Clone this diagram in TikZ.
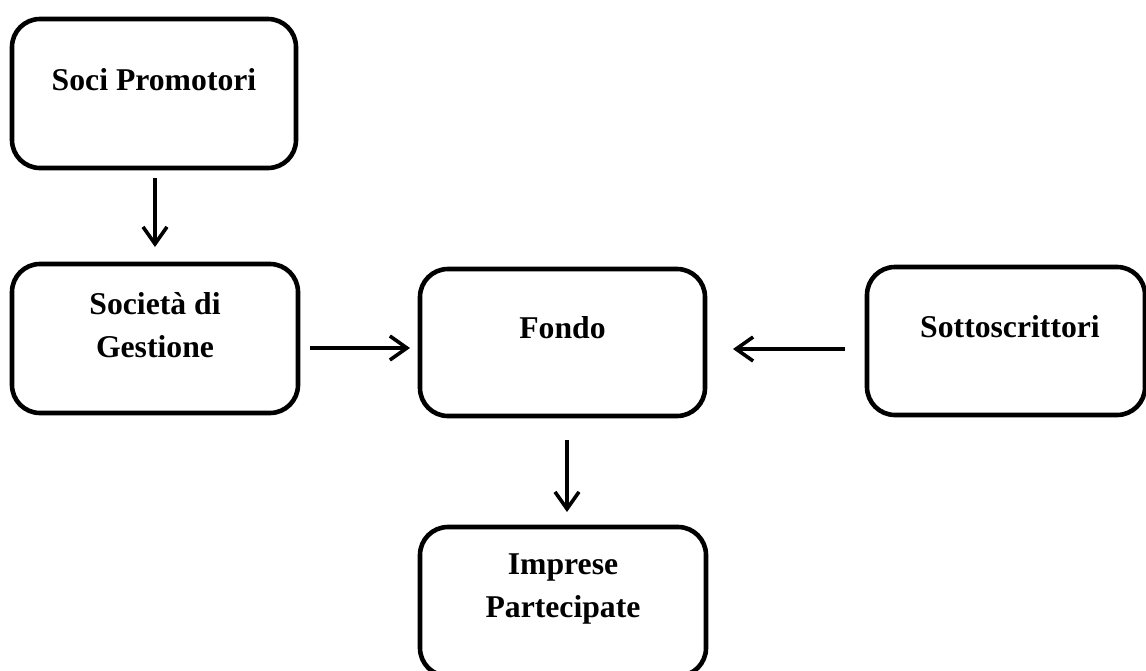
\documentclass[tikz,border=0pt]{standalone}
\usepackage{fontspec}
\setmainfont{Liberation Serif}
\usetikzlibrary{arrows.meta}
\begin{document}
\begin{tikzpicture}[x=1pt,y=-1pt,
  box/.style={draw,line width=4.6pt,rounded corners=28pt,inner sep=0pt,outer sep=0pt},
  lbl/.style={font=\fontsize{31.7}{43}\selectfont\bfseries,inner sep=0pt,align=center},
  arr/.style={line width=3.6pt,-{Straight Barb[length=17pt,width=24pt]}}]
\useasboundingbox (0,0) rectangle (1146,670);
\clip (0,0) rectangle (1146,670);
\node[box,minimum width=284pt,minimum height=149pt] (soci) at (154,93.5) {};
\node[box,minimum width=286pt,minimum height=149pt] (gest) at (155,338.5) {};
\node[box,minimum width=285pt,minimum height=147pt] (fondo) at (562.5,342.5) {};
\node[box,minimum width=278pt,minimum height=148pt] (sott) at (1006,341) {};
\node[box,minimum width=286pt,minimum height=149pt] (impr) at (563,601.5) {};
\node[lbl,anchor=base] (tsoci) at (154,90) {Soci Promotori};
\node[lbl,anchor=base] (tgest) at (155,357) {Società di\\Gestione};
\node[lbl,anchor=base] (tfondo) at (562.5,338) {Fondo};
\node[lbl,anchor=base] (tsott) at (1010,337) {Sottoscrittori};
\node[lbl,anchor=base] (timpr) at (563,617) {Imprese\\Partecipate};
\draw[arr,shorten <=10pt,shorten >=17pt] ([xshift=1pt]soci.south) -- (gest.north);
\draw[arr,shorten <=12pt,shorten >=10pt] ([yshift=-9.5pt]gest.east) -- ([yshift=-5.5pt]fondo.west);
\draw[arr,shorten <=22pt,shorten >=28pt] ([yshift=-8pt]sott.west) -- ([yshift=-6.5pt]fondo.east);
\draw[arr,shorten <=24pt,shorten >=15pt] ([xshift=4.5pt]fondo.south) -- ([xshift=4pt]impr.north);
\end{tikzpicture}
\end{document}
